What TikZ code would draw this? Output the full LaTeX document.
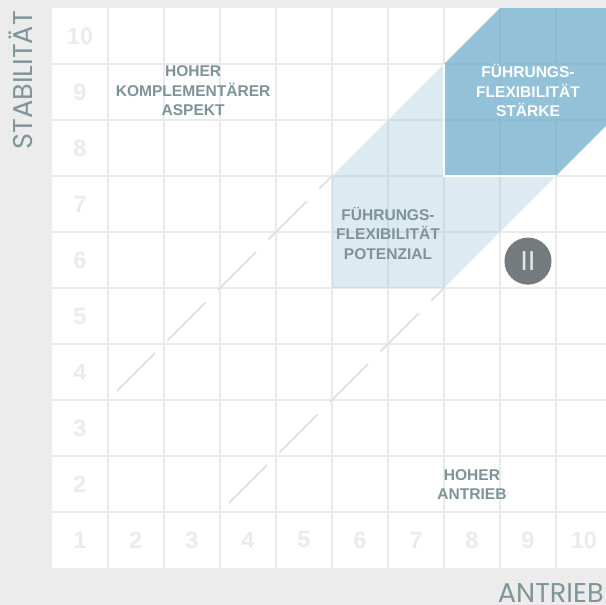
\documentclass[tikz,border=0pt]{standalone}
\usepackage{fontspec}
\setmainfont{Liberation Sans}
\newfontfamily\axisfont{Poppins}
\usepackage{xcolor}
\usepackage{tikz}
\usetikzlibrary{calc}
\definecolor{bggray}{HTML}{ECECEC}
\definecolor{linegray}{HTML}{EAEAEA}
\definecolor{numgray}{HTML}{EBEBEB}
\definecolor{dashgray}{HTML}{E2E2E2}
\definecolor{labelgray}{HTML}{7D9398}
\definecolor{axisgray}{HTML}{7F9599}
\definecolor{lightblue}{RGB}{123,175,207}
\definecolor{darkblue}{RGB}{102,168,199}
\definecolor{circlegray}{HTML}{737B7E}
\tikzset{
  zahl/.style={text=numgray, font=\bfseries\fontsize{12}{12}\selectfont},
  feld/.style={text=labelgray, align=center, font=\bfseries\fontsize{7.9}{9.9}\selectfont},
  achse/.style={text=axisgray, inner sep=0pt, font=\axisfont\fontsize{13.8}{14}\selectfont},
}

\begin{document}
\begin{tikzpicture}
\fill[bggray] (-0.929,-0.661) rectangle (9.893,10.143);
\useasboundingbox (-0.929,-0.661) rectangle (9.893,10.143);
\begin{scope}
\clip (-0.929,-0.661) rectangle (9.893,10.143);
\fill[white] (0,0) rectangle (10,10);
\foreach \i in {1,...,9} {
  \draw[linegray, line width=1.02pt] (\i,0)--(\i,10);
  \draw[linegray, line width=1.02pt] (0,\i)--(10,\i);
}
\foreach \x [evaluate=\x as \xc using \x-.5] in {1,...,10} {
  \node[zahl] (spalte\x) at (\xc,.5) {\x};
}
\foreach \y [evaluate=\y as \yc using \y-.5] in {2,...,10} {
  \node[zahl] (zeile\y) at (.5,\yc) {\y};
}
\draw[dashgray, line width=1pt, dash pattern=on 27.3pt off 9pt] (1.16,3.16)--(5,7);
\draw[dashgray, line width=1pt, dash pattern=on 27.3pt off 9pt] (3.16,1.16)--(7,5);
\fill[lightblue, fill opacity=.25] (5,5)--(5,7)--(7,9)--(7,7)--(9,7)--(7,5)--cycle;
\fill[darkblue, fill opacity=.7] (7,7)--(7,9)--(8,10)--(10,10)--(10,8)--(9,7)--cycle;
\draw[white, line width=1pt] (7,9)--(7,7)--(9,7);
\end{scope}
\node[feld] (komplement) at (2.52,8.52) {HOHER\\KOMPLEMENTÄRER\\ASPEKT};
\node[feld, text=white] (staerke) at (8.5,8.52) {FÜHRUNGS-\\FLEXIBILITÄT\\STÄRKE};
\node[feld] (potenzial) at (6,5.98) {FÜHRUNGS-\\FLEXIBILITÄT\\POTENZIAL};
\node[feld] (antrieb) at (7.5,1.49) {HOHER\\ANTRIEB};
\node[circle, fill=circlegray, minimum size=.84cm, inner sep=0pt, text={rgb,255:red,228;green,228;blue,228}, font=\fontsize{14}{14}\selectfont] (typ) at (8.5,5.48) {II};
\node[achse, rotate=90, anchor=base] (ystab) at (-0.34,8.71) {STABILITÄT};
\node[achse, anchor=base east] (xantrieb) at (9.86,-0.61) {ANTRIEB};
\end{tikzpicture}
\end{document}
